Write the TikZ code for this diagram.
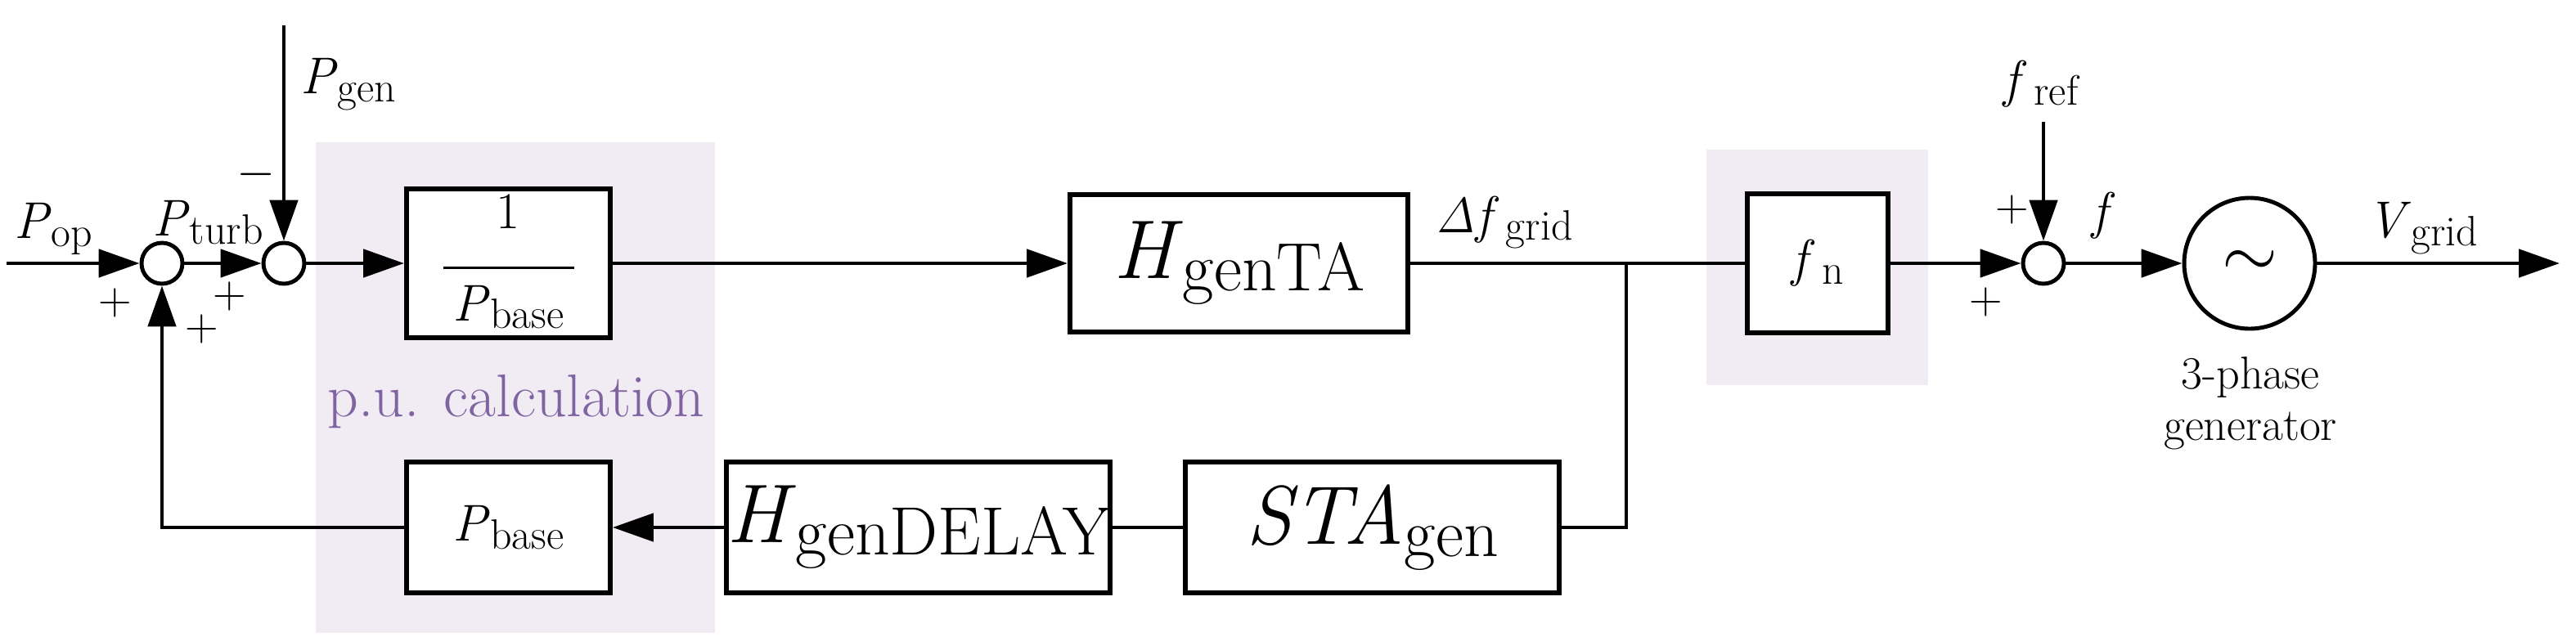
\documentclass[tikz,border=0pt]{standalone}
\usetikzlibrary{arrows.meta}
\definecolor{puback}{RGB}{241,236,243}
\definecolor{pucol}{RGB}{128,100,162}
\newcommand{\sub}[2]{\textit{#1}\raisebox{-0.35ex}{\scalebox{0.82}{#2}}}

\begin{document}
\begin{tikzpicture}[
                    line width=1.4pt,
                    >={Triangle[length=0.5cm,width=0.34cm]},
                    blk/.style={draw, line width=1.7pt, fill=white, minimum height=1.68cm, inner sep=0},
                    sum/.style={draw, circle, fill=white, minimum size=0.5cm, inner sep=0},
                    lbl/.style={font=\fontsize{18}{20}\selectfont, inner sep=0},
                    sgn/.style={font=\fontsize{16}{18}\selectfont, inner sep=0}]
                \useasboundingbox (0,0) rectangle (31.49,7.78);
                \fill [puback] (3.86,0.04) rectangle (8.74,6.04);
                \fill [puback] (20.86,3.07) rectangle (23.57,5.95);

                \coordinate (in) at (0.08,4.56);
                \node (1) [sum] at (1.98,4.56) {};
                \node (2) [sum] at (3.47,4.56) {};
                \coordinate (pgen) at (3.47,7.47);
                \node (inv) [blk, minimum width=2.49cm, lbl] at (6.215,4.56)
                      {\begin{tabular}{c}1\\[-6pt]\rule{1.6cm}{0.8pt}\\[-2pt]\sub{P}{base}\end{tabular}};
                \node (ta) [blk, minimum width=4.13cm, font=\fontsize{29}{30}\selectfont] at (15.145,4.56) {\sub{H}{genTA}};
                \coordinate (j) at (19.88,4.56);
                \node (fn) [blk, minimum width=1.72cm, minimum height=1.70cm, lbl] at (22.22,4.56) {\sub{f}{\,n}};
                \node (3) [sum] at (24.98,4.56) {};
                \coordinate (fref) at (24.98,6.29);
                \node (gen) [draw, circle, fill=white, minimum size=1.6cm, inner sep=0,
                             font=\fontsize{30}{30}\selectfont] at (27.50,4.56) {$\sim$};
                \coordinate (out) at (31.29,4.56);

                \node (pb) [blk, minimum width=2.49cm, minimum height=1.6cm, lbl] at (6.215,1.33) {\sub{P}{base}};
                \node (dl) [blk, minimum width=4.55cm, minimum height=1.6cm, font=\fontsize{29}{30}\selectfont] at (11.225,1.33) {\sub{H}{genDELAY}};
                \node (st) [blk, minimum width=4.57cm, minimum height=1.6cm, font=\fontsize{29}{30}\selectfont] at (16.775,1.33) {\sub{STA}{gen}};
                \coordinate (c) at (1.98,1.33);

                \draw [->] (in) -- (1);
                \draw [->] (1) -- (2);
                \draw [->] (pgen) -- (2);
                \draw [->] (2) -- (inv);
                \draw [->] (inv) -- (ta);
                \draw (ta) -- (fn);
                \draw [->] (fn) -- (3);
                \draw [->] (fref) -- (3);
                \draw [->] (3) -- (gen);
                \draw [->] (gen) -- (out);
                \draw (j) |- (st);
                \draw (st) -- (dl);
                \draw [->] (dl) -- (pb);
                \draw [->] (pb) -- (c) -- (1);

                \node [lbl, anchor=west] at (3.65,6.75) {\sub{P}{gen}};
                \node [lbl] at (0.65,4.98) {\sub{P}{op}};
                \node [lbl] at (2.54,5.06) {\sub{P}{turb}};
                \node [sgn] at (3.13,5.65) {$-$};
                \node [sgn] at (1.41,4.08) {+};
                \node [sgn] at (2.81,4.16) {+};
                \node [sgn] at (2.47,3.76) {+};
                \node [lbl, text=pucol, font=\fontsize{21}{22}\selectfont] at (6.31,2.87) {p.u. calculation};
                \node [lbl] at (18.39,5.06) {$\mathit{\Delta}$\sub{f}{\,grid}};
                \node [lbl] at (24.95,6.75) {\sub{f}{\,ref}};
                \node [sgn] at (24.60,5.22) {+};
                \node [sgn] at (24.28,4.09) {+};
                \node [lbl] at (25.72,5.14) {\textit{f}};
                \node [lbl] at (29.61,4.99) {\sub{V}{grid}};
                \node [lbl, font=\fontsize{16}{18}\selectfont, align=center] at (27.51,2.85) {3-phase\\generator};
            \end{tikzpicture}
\end{document}
